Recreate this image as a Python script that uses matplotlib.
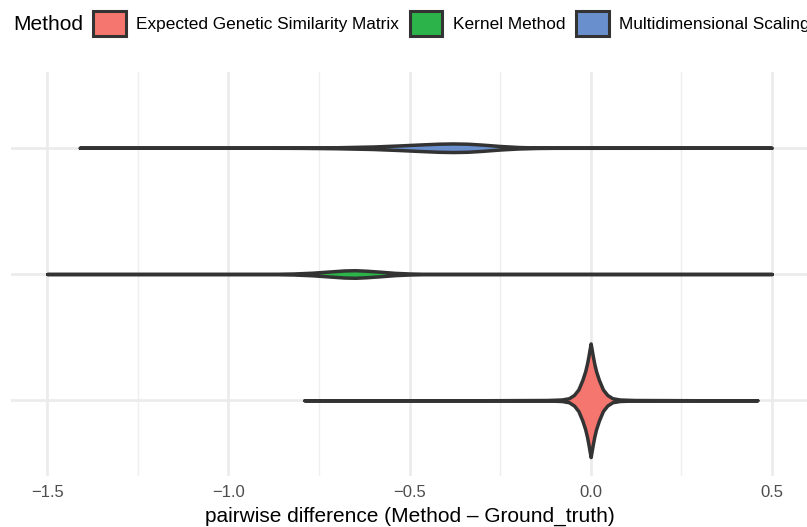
import matplotlib
matplotlib.use('Agg')
import matplotlib.pyplot as plt
from matplotlib.patches import Patch

plt.rcParams['font.family'] = ['Liberation Sans', 'DejaVu Sans']

# methods, bottom to top
methods = ['Expected Genetic Similarity Matrix', 'Kernel Method', 'Multidimensional Scaling']
colors = ['#F4766E', '#2CB34A', '#6A8FCD']

# violin outlines: x value -> half width (category units)
egsm_x = [-0.79, -0.30, -0.12, -0.08, -0.06, -0.046, -0.034, -0.023, -0.015, -0.010, -0.006, -0.003, 0.0,
          0.003, 0.006, 0.010, 0.015, 0.023, 0.034, 0.046, 0.06, 0.08, 0.12, 0.30, 0.46]
egsm_w = [0.0, 0.0, 0.002, 0.006, 0.016, 0.042, 0.085, 0.16, 0.23, 0.29, 0.35, 0.40, 0.45,
          0.40, 0.35, 0.29, 0.23, 0.16, 0.085, 0.042, 0.016, 0.006, 0.002, 0.0, 0.0]

kernel_x = [-1.50, -0.95, -0.88, -0.82, -0.77, -0.72, -0.68, -0.65, -0.62, -0.58, -0.54, -0.50, -0.45, -0.40, 0.50]
kernel_w = [0.0, 0.0, 0.001, 0.004, 0.010, 0.020, 0.028, 0.030, 0.026, 0.018, 0.009, 0.004, 0.001, 0.0, 0.0]

mds_x = [-1.41, -0.90, -0.80, -0.70, -0.60, -0.53, -0.47, -0.42, -0.38, -0.34, -0.30, -0.25, -0.20, -0.15, -0.10, 0.50]
mds_w = [0.0, 0.0, 0.001, 0.004, 0.010, 0.018, 0.026, 0.032, 0.034, 0.032, 0.025, 0.014, 0.006, 0.002, 0.0005, 0.0]

xticks = [-1.5, -1.0, -0.5, 0.0, 0.5]
xminor = [-1.25, -0.75, -0.25, 0.25]

fig = plt.figure(figsize=(8.07, 5.27), dpi=100)
ax = fig.add_axes([11 / 807, 1 - 476 / 527, 797 / 807, 404 / 527])

profiles = [(egsm_x, egsm_w), (kernel_x, kernel_w), (mds_x, mds_w)]
for i, ((xs, ws), col) in enumerate(zip(profiles, colors)):
    pos = i + 1
    lo = [pos - w for w in ws]
    hi = [pos + w for w in ws]
    ax.fill_between(xs, lo, hi, facecolor=col, edgecolor='#333333', linewidth=2.5,
                    joinstyle='round', zorder=3)

ax.set_xlim(-1.6, 0.6)
ax.set_ylim(0.4, 3.6)
ax.set_xticks(xticks)
ax.set_xticklabels(['\u22121.5', '\u22121.0', '\u22120.5', '0.0', '0.5'])
ax.set_xticks(xminor, minor=True)
ax.set_yticks([1, 2, 3])
ax.set_yticklabels([])
ax.tick_params(axis='both', which='both', length=0)
ax.tick_params(axis='x', labelsize=12, labelcolor='#4D4D4D', pad=6.5)
ax.grid(True, which='major', color='#EBEBEB', linewidth=1.9, zorder=0)
ax.grid(True, which='minor', axis='x', color='#EFEFEF', linewidth=1.0, zorder=0)
ax.set_axisbelow(True)
for s in ax.spines.values():
    s.set_visible(False)
ax.set_xlabel('pairwise difference (Method \u2013 Ground_truth)', fontsize=15, labelpad=5)

# legend on top, title to the left
fig.text(13 / 807, 1 - 24 / 527, 'Method', fontsize=15, va='center', ha='left')
handles = [Patch(facecolor=c, edgecolor='#333333', linewidth=2.2) for c in colors]
fig.legend(handles, methods, loc='center left', bbox_to_anchor=(93 / 807, 1 - 23.5 / 527),
           ncol=3, frameon=False, fontsize=12.4, handlelength=1.9, handleheight=1.9,
           handletextpad=0.6, columnspacing=0.62, borderpad=0, borderaxespad=0)

fig.savefig('out.png', dpi=100)
